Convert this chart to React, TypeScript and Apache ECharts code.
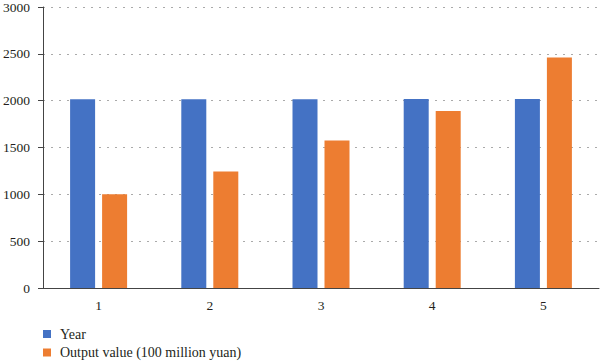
import React, { useEffect, useRef } from "react";
import * as echarts from "echarts";

const categories = ["1", "2", "3", "4", "5"];
const yearValues = [2014, 2015, 2016, 2017, 2018];
const outputValues = [1000, 1245, 1576, 1890, 2462];
const seriesNames = ["Year", "Output value (100 million yuan)"];

const FONT = "'Liberation Serif', 'Times New Roman', serif";

export default function App() {
  const ref = useRef<HTMLDivElement>(null);
  useEffect(() => {
    if (!ref.current) return;
    const chart = echarts.init(ref.current, undefined, { renderer: "svg" });
    chart.setOption({
      animation: false,
      grid: { left: 40, right: 1, top: 7, bottom: 76 },
      legend: {
        orient: "vertical",
        left: 43,
        top: 327,
        padding: 0,
        icon: "rect",
        itemWidth: 8,
        itemHeight: 8,
        itemGap: 4.5,
        textStyle: { fontFamily: FONT, fontSize: 14, color: "#231f20", lineHeight: 14, padding: [0, 0, 0, 4] },
        data: seriesNames,
      },
      xAxis: {
        type: "category",
        data: categories,
        axisLine: { lineStyle: { color: "#444", width: 1 } },
        axisTick: { alignWithLabel: true, length: 5, lineStyle: { color: "#444" } },
        axisLabel: { fontFamily: FONT, fontSize: 13.5, color: "#231f20", margin: 10 },
      },
      yAxis: {
        type: "value",
        min: 0,
        max: 3000,
        interval: 500,
        axisLine: { show: true, lineStyle: { color: "#444", width: 1 } },
        axisTick: { show: true, length: 5, lineStyle: { color: "#444" } },
        axisLabel: {
          fontFamily: FONT,
          fontSize: 13.5,
          color: "#231f20",
          margin: 13,
          formatter: (v: number) => String(v),
        },
        splitLine: {
          show: true,
          lineStyle: { color: "#aaa", type: [2, 6], width: 1.2 },
        },
      },
      series: [
        {
          name: seriesNames[0],
          type: "bar",
          data: yearValues,
          barWidth: 25,
          barGap: "28%",
          itemStyle: { color: "#4472C4" },
        },
        {
          name: seriesNames[1],
          type: "bar",
          data: outputValues,
          barWidth: 25,
          itemStyle: { color: "#ED7D31" },
        },
      ],
    });
    return () => chart.dispose();
  }, []);
  return <div ref={ref} style={{ width: 600, height: 364, position: "fixed", left: 0, top: 0, background: "#fff" }} />;
}
